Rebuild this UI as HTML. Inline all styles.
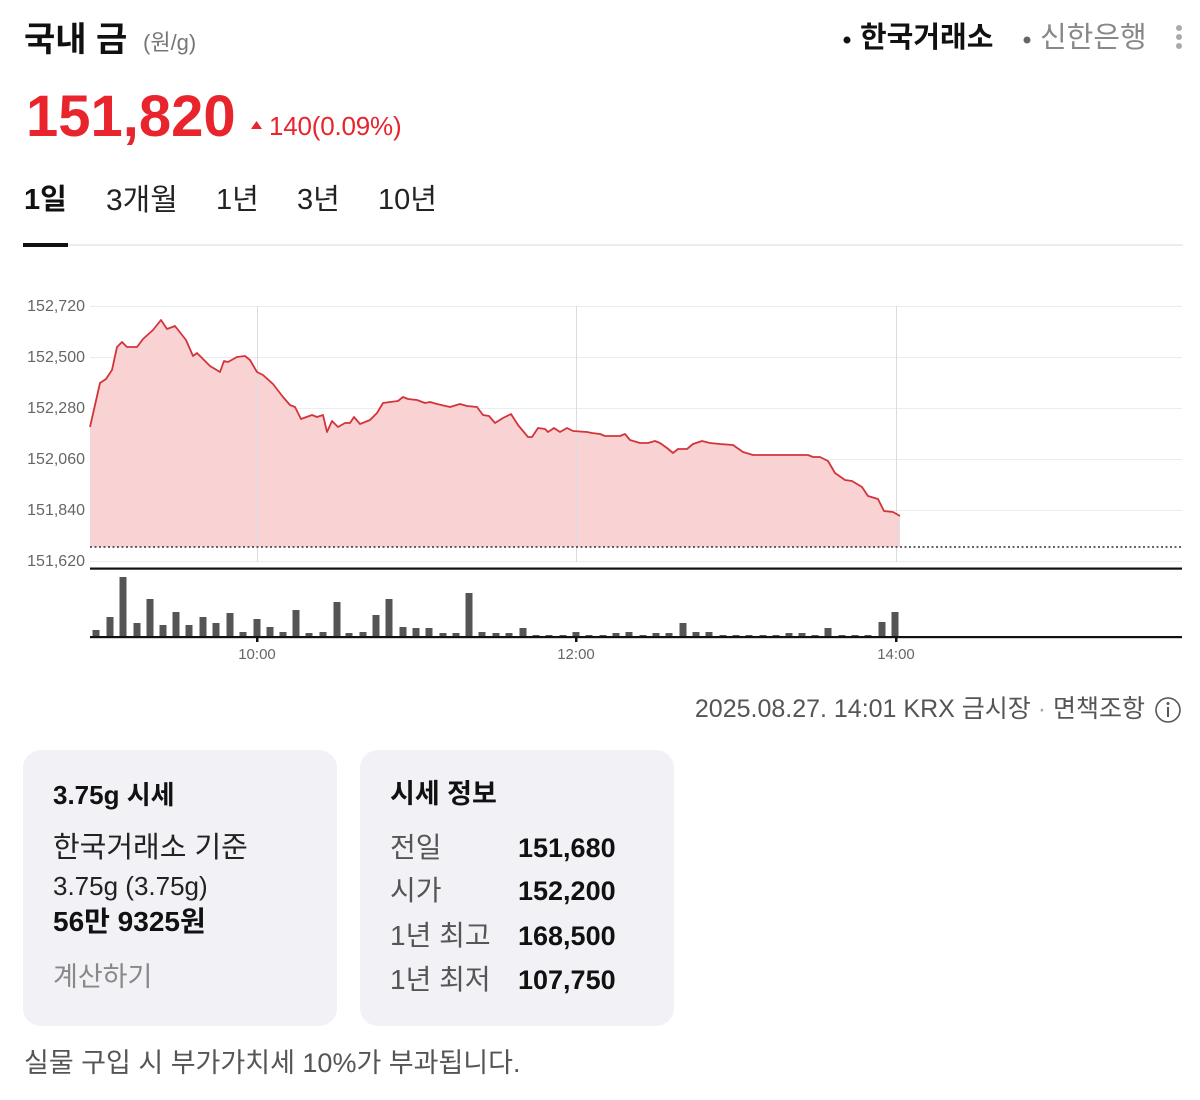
<!DOCTYPE html>
<html><head><meta charset="utf-8">
<style>
*{margin:0;padding:0;box-sizing:border-box}
html,body{width:1200px;height:1100px;background:#fff;overflow:hidden}
body{position:relative;font-family:"Liberation Sans","Noto Sans CJK KR",sans-serif;color:#111}
.t{position:absolute;white-space:nowrap}
.card{position:absolute;top:750px;width:314px;height:276px;border-radius:18px;background:#f2f2f6}
</style></head><body>

<svg style="position:absolute;left:0;top:0" width="1200" height="1100" viewBox="0 0 1200 1100">
  <rect x="23" y="244" width="1160" height="2" fill="#ececef"/>
  <rect x="23" y="243" width="45" height="4" fill="#111"/>
  <circle cx="847" cy="40" r="3.5" fill="#111"/>
  <circle cx="1027" cy="40" r="3.5" fill="#666"/>
  <circle cx="1179" cy="28" r="3" fill="#aaa"/>
  <circle cx="1179" cy="37" r="3" fill="#aaa"/>
  <circle cx="1179" cy="46" r="3" fill="#aaa"/>
  <polygon points="251,129 256.5,121 262,129" fill="#e8242d"/>

  <g stroke="#ececf0" stroke-width="1">
    <line x1="90" y1="306.5" x2="1182" y2="306.5"/>
    <line x1="90" y1="357.5" x2="1182" y2="357.5"/>
    <line x1="90" y1="408.5" x2="1182" y2="408.5"/>
    <line x1="90" y1="459.5" x2="1182" y2="459.5"/>
    <line x1="90" y1="510.5" x2="1182" y2="510.5"/>
    <line x1="90" y1="561.5" x2="1182" y2="561.5"/>
  </g>
  <polygon fill="#f9d2d3" points="90,547 90,427 100,383 106,379 112,370 117,347 122,342 127,347 137,347 143,339 153,330 161,320 167,329 175,326 186,340 193,356 197,353 210,366 220,372 224,361 228,362 237,357 245,356 250,360 257,372 263,375 273,384 283,397 290,405 295,407 301,419 312,415 317,417 323,415 327,432 332,421 338,427 345,423 350,423 354,417 360,424 370,420 377,413 383,403 390,402 398,401 403,397 408,399 417,400 425,403 430,402 437,404 450,407 460,404 467,406 477,407 483,415 489,416 495,423 503,418 511,414 518,425 528,437 532,437 538,428 545,429 548,432 554,428 560,432 567,428 573,431 587,432 592,433 600,434 605,436 620,436 625,434 630,440 640,443 648,443 655,441 660,443 667,448 673,453 678,449 687,449 693,444 702,441 710,443 720,444 733,445 743,452 753,455 808,455 813,457 820,457 828,461 835,473 845,480 852,481 862,487 868,496 878,499 884,511 893,512 900,516 900,547"/>
  <g stroke="#d9dce3" stroke-width="1">
    <line x1="257.5" y1="306" x2="257.5" y2="562"/>
    <line x1="576.5" y1="306" x2="576.5" y2="562"/>
    <line x1="896.5" y1="306" x2="896.5" y2="562"/>
  </g>
  <polyline fill="none" stroke="#d3343a" stroke-width="1.8" stroke-linejoin="round" points="90,427 100,383 106,379 112,370 117,347 122,342 127,347 137,347 143,339 153,330 161,320 167,329 175,326 186,340 193,356 197,353 210,366 220,372 224,361 228,362 237,357 245,356 250,360 257,372 263,375 273,384 283,397 290,405 295,407 301,419 312,415 317,417 323,415 327,432 332,421 338,427 345,423 350,423 354,417 360,424 370,420 377,413 383,403 390,402 398,401 403,397 408,399 417,400 425,403 430,402 437,404 450,407 460,404 467,406 477,407 483,415 489,416 495,423 503,418 511,414 518,425 528,437 532,437 538,428 545,429 548,432 554,428 560,432 567,428 573,431 587,432 592,433 600,434 605,436 620,436 625,434 630,440 640,443 648,443 655,441 660,443 667,448 673,453 678,449 687,449 693,444 702,441 710,443 720,444 733,445 743,452 753,455 808,455 813,457 820,457 828,461 835,473 845,480 852,481 862,487 868,496 878,499 884,511 893,512 900,516"/>
  <line x1="90" y1="547" x2="1182" y2="547" stroke="#333" stroke-width="1.6" stroke-dasharray="2,2.5"/>
  <rect x="90" y="567.5" width="1092" height="2.2" fill="#111"/>
  <g fill="#555">
    <rect x="92.5" y="630" width="7" height="7"/>
    <rect x="106.5" y="617" width="7" height="20"/>
    <rect x="119.5" y="577" width="7" height="60"/>
    <rect x="133.5" y="623" width="7" height="14"/>
    <rect x="146.5" y="599" width="7" height="38"/>
    <rect x="159.5" y="625" width="7" height="12"/>
    <rect x="172.5" y="612" width="7" height="25"/>
    <rect x="185.5" y="625" width="7" height="12"/>
    <rect x="199.5" y="617" width="7" height="20"/>
    <rect x="212.5" y="623" width="7" height="14"/>
    <rect x="226.5" y="613" width="7" height="24"/>
    <rect x="239.5" y="632" width="7" height="5"/>
    <rect x="253.5" y="619" width="7" height="18"/>
    <rect x="266.5" y="627" width="7" height="10"/>
    <rect x="279.5" y="632" width="7" height="5"/>
    <rect x="292.5" y="610" width="7" height="27"/>
    <rect x="305.5" y="633" width="7" height="4"/>
    <rect x="319.5" y="632" width="7" height="5"/>
    <rect x="333.5" y="602" width="7" height="35"/>
    <rect x="345.5" y="633" width="7" height="4"/>
    <rect x="359.5" y="632" width="7" height="5"/>
    <rect x="372.5" y="615" width="7" height="22"/>
    <rect x="385.5" y="599" width="7" height="38"/>
    <rect x="399.5" y="627" width="7" height="10"/>
    <rect x="412.5" y="628" width="7" height="9"/>
    <rect x="425.5" y="628" width="7" height="9"/>
    <rect x="439.5" y="633" width="7" height="4"/>
    <rect x="452.5" y="633" width="7" height="4"/>
    <rect x="465.5" y="593" width="7" height="44"/>
    <rect x="478.5" y="632" width="7" height="5"/>
    <rect x="492.5" y="633" width="7" height="4"/>
    <rect x="505.5" y="633" width="7" height="4"/>
    <rect x="519.5" y="628" width="7" height="9"/>
    <rect x="532.5" y="635" width="7" height="2"/>
    <rect x="545.5" y="635" width="7" height="2"/>
    <rect x="559.5" y="635" width="7" height="2"/>
    <rect x="572.5" y="632" width="7" height="5"/>
    <rect x="585.5" y="635" width="7" height="2"/>
    <rect x="599.5" y="635" width="7" height="2"/>
    <rect x="612.5" y="633" width="7" height="4"/>
    <rect x="625.5" y="632" width="7" height="5"/>
    <rect x="639.5" y="635" width="7" height="2"/>
    <rect x="652.5" y="633" width="7" height="4"/>
    <rect x="665.5" y="633" width="7" height="4"/>
    <rect x="679.5" y="623" width="7" height="14"/>
    <rect x="692.5" y="632" width="7" height="5"/>
    <rect x="705.5" y="632" width="7" height="5"/>
    <rect x="719.5" y="635" width="7" height="2"/>
    <rect x="732.5" y="635" width="7" height="2"/>
    <rect x="745.5" y="635" width="7" height="2"/>
    <rect x="759.5" y="635" width="7" height="2"/>
    <rect x="772.5" y="635" width="7" height="2"/>
    <rect x="785.5" y="633" width="7" height="4"/>
    <rect x="798.5" y="633" width="7" height="4"/>
    <rect x="811.5" y="635" width="7" height="2"/>
    <rect x="824.5" y="628" width="7" height="9"/>
    <rect x="838.5" y="635" width="7" height="2"/>
    <rect x="851.5" y="635" width="7" height="2"/>
    <rect x="864.5" y="635" width="7" height="2"/>
    <rect x="878.5" y="622" width="7" height="15"/>
    <rect x="891.5" y="612" width="7" height="25"/>
  </g>
  <rect x="90" y="636" width="1092" height="2.2" fill="#111"/>
  <g fill="#111">
    <rect x="256" y="636" width="2.5" height="6"/>
    <rect x="575" y="636" width="2.5" height="6"/>
    <rect x="895" y="636" width="2.5" height="6"/>
  </g>
  <g font-family="Liberation Sans, sans-serif" font-size="16" fill="#666" text-anchor="end">
    <text x="85" y="311">152,720</text>
    <text x="85" y="362">152,500</text>
    <text x="85" y="413">152,280</text>
    <text x="85" y="464">152,060</text>
    <text x="85" y="515">151,840</text>
    <text x="85" y="566">151,620</text>
  </g>
  <g font-family="Liberation Sans, sans-serif" font-size="15" fill="#666" text-anchor="middle">
    <text x="257" y="659">10:00</text>
    <text x="576" y="659">12:00</text>
    <text x="896" y="659">14:00</text>
  </g>
  <circle cx="1168" cy="710" r="12" fill="none" stroke="#555" stroke-width="1.6"/>
  <circle cx="1168" cy="703.5" r="1.5" fill="#555"/>
  <rect x="1167" y="707" width="2" height="10" fill="#555"/>
  <polyline points="162,969 171,978 162,987" fill="none" stroke="#888" stroke-width="1.8"/>
</svg>

<div class="t" style="left:24px;top:23px;font-size:34px;line-height:34px;font-weight:bold;color:#111">국내 금</div>
<div class="t" style="left:143px;top:32px;font-size:22px;line-height:22px;color:#777">(원/g)</div>

<div class="t" style="left:26px;top:88px;font-size:58px;line-height:58px;font-weight:bold;color:#e8242d">151,820</div>
<div class="t" style="left:269px;top:113px;font-size:26px;line-height:26px;letter-spacing:-0.2px;color:#e8242d">140(0.09%)</div>

<div class="t" style="left:860px;top:24px;font-size:29px;line-height:29px;font-weight:bold;color:#111">한국거래소</div>
<div class="t" style="left:1040px;top:24px;font-size:29px;line-height:29px;color:#888">신한은행</div>

<div class="t" style="left:24px;top:186px;font-size:29px;line-height:29px;font-weight:bold;color:#111">1일</div>
<div class="t" style="left:106px;top:186px;font-size:30px;line-height:30px;color:#222">3개월</div>
<div class="t" style="left:216px;top:186px;font-size:29px;line-height:29px;color:#222">1년</div>
<div class="t" style="left:297px;top:186px;font-size:29px;line-height:29px;color:#222">3년</div>
<div class="t" style="left:378px;top:186px;font-size:29px;line-height:29px;color:#222">10년</div>

<div class="t" style="right:55px;top:697px;font-size:25px;line-height:25px;color:#555">2025.08.27. 14:01 KRX 금시장 <span style="color:#aaa">·</span> 면책조항</div>

<div class="card" style="left:23px"></div>
<div class="card" style="left:360px"></div>

<div class="t" style="left:53px;top:782px;font-size:26px;line-height:26px;font-weight:bold;color:#111">3.75g 시세</div>
<div class="t" style="left:53px;top:834px;font-size:29px;line-height:29px;color:#222">한국거래소 기준</div>
<div class="t" style="left:53px;top:873px;font-size:26px;line-height:26px;color:#222">3.75g (3.75g)</div>
<div class="t" style="left:53px;top:908px;font-size:28px;line-height:28px;font-weight:bold;color:#111">56만 9325원</div>
<div class="t" style="left:53px;top:964px;font-size:27px;line-height:27px;color:#888">계산하기</div>

<div class="t" style="left:390px;top:781px;font-size:27px;line-height:27px;font-weight:bold;color:#111">시세 정보</div>
<div class="t" style="left:390px;top:834px;font-size:28px;line-height:28px;color:#555">전일</div>
<div class="t" style="left:390px;top:877px;font-size:28px;line-height:28px;color:#555">시가</div>
<div class="t" style="left:390px;top:922px;font-size:28px;line-height:28px;color:#555">1년 최고</div>
<div class="t" style="left:390px;top:966px;font-size:28px;line-height:28px;color:#555">1년 최저</div>
<div class="t" style="left:518px;top:835px;font-size:27px;line-height:27px;font-weight:bold;color:#111">151,680</div>
<div class="t" style="left:518px;top:878px;font-size:27px;line-height:27px;font-weight:bold;color:#111">152,200</div>
<div class="t" style="left:518px;top:923px;font-size:27px;line-height:27px;font-weight:bold;color:#111">168,500</div>
<div class="t" style="left:518px;top:967px;font-size:27px;line-height:27px;font-weight:bold;color:#111">107,750</div>

<div class="t" style="left:24px;top:1050px;font-size:27px;line-height:27px;color:#555">실물 구입 시 부가가치세 10%가 부과됩니다.</div>

</body></html>
